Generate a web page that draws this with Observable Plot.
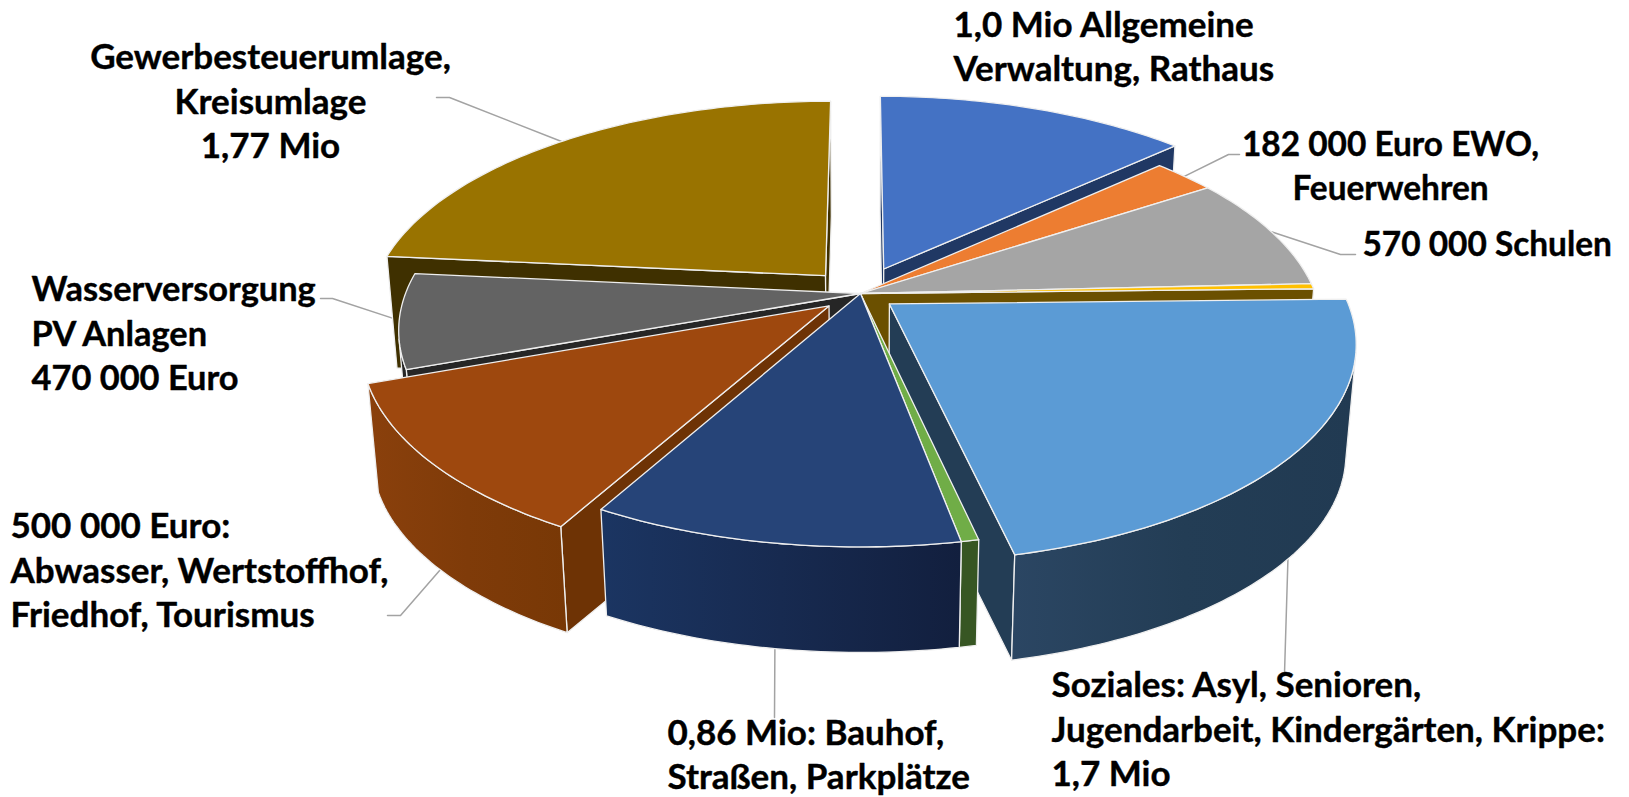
<!DOCTYPE html>
<html>
<head>
<meta charset="utf-8">
<style>html,body{margin:0;padding:0;background:#fff}svg{display:block}</style>
<script src="https://cdn.jsdelivr.net/npm/d3@7"></script>
<script src="https://cdn.jsdelivr.net/npm/@observablehq/plot@0.6"></script>
</head>
<body>
<script>
// Data: slice sizes (Mio Euro equivalents of the drawn angles)
const categories = ["Verwaltung","EWO","Schulen","Gelb","Soziales","Gruen","Bauhof","Abwasser","Wasser","Umlagen"];
const values = [1.0, 0.2, 0.65, 0.03, 1.67, 0.04, 0.84, 0.87, 0.54, 1.79];
const explode = [0.13, 0, 0, 0, 0.08, 0, 0, 0.09, 0, 0.116];
const topColors = ["#4472c4","#ed7d31","#a5a5a5","#ffc000","#5b9bd5","#70ad47","#264478","#9e480e","#636363","#997300"];
const wallColors = ["#203864","#7a3f17","#555555","#6b5000","#233d55","#375623","#14264d","#6e3305","#262626","#3f3000"];
const rimStops = [null,null,null,null,["#2b4663","#233d55","#213a52"],null,["#1b3562","#172a50","#121f3e"],["#8a400c","#7f3b09","#783806"],null,null];
const labelTexts = [
  "1,0 Mio Allgemeine\nVerwaltung, Rathaus",
  "182 000 Euro EWO,\nFeuerwehren",
  "570 000 Schulen",
  "",
  "Soziales: Asyl, Senioren,\nJugendarbeit, Kindergärten, Krippe:\n1,7 Mio",
  "",
  "0,86 Mio: Bauhof,\nStraßen, Parkplätze",
  "500 000 Euro:\nAbwasser, Wertstoffhof,\nFriedhof, Tourismus",
  "Wasserversorgung\nPV Anlagen\n470 000 Euro",
  "Gewerbesteuerumlage,\nKreisumlage\n1,77 Mio"
];

// Layout
const W = 1629, H = 797;
const cx = 860, cy = 293, A = 455, T = 210, k = 5.84;
const dropS = 0.021, vx = 865, vy = 5574;
const labelPos = [[953,44,"start"],[1390,163,"middle"],[1362,241,"start"],null,[1051,727,"start"],null,[667,752,"start"],[10,568,"start"],[31,331,"start"],[270,99,"middle"]];
const labelSize = [35,33.4,33.4,0,35,0,35,35,34.4,35];
const leaderRoute = [null,[[1228,154],[1239,154]],[[1340,254],[1355,254]],null,[[1284,673]],null,[[774,717]],[[400,615],[387,615]],[[332,298],[320,298]],[[449,97],[436,97]]];
const leaderOnBase = [false,false,false,false,true,false,true,true,false,false];
const paintOrder = [9,0,1,2,3,8,7,4,5,6];

const project = (X, Y) => { const f = k / (k + Y); return [cx + A * X * f, cy - T * Y * f]; };
const drop = ([x, y]) => [x + dropS * (vx - x), y + dropS * (vy - y)];
const arcs = d3.pie().sort(null).value(d => d)(values);

function sliceGeom(i) {
  const a = arcs[i], mid = (a.startAngle + a.endAngle) / 2;
  const ox = explode[i] * Math.sin(mid), oy = explode[i] * Math.cos(mid);
  const at = (b, r = 1) => project(ox + r * Math.sin(b), oy + r * Math.cos(b));
  const n = Math.max(2, Math.ceil((a.endAngle - a.startAngle) / (Math.PI / 180)));
  const rim = d3.range(n + 1).map(j => at(a.startAngle + (a.endAngle - a.startAngle) * j / n));
  return {a, mid, at, rim, apex: at(0, 0)};
}

const toRows = ps => ps.map(([x, y]) => ({x, y}));
const face = (ps, fill, extra = {}) => Plot.line(toRows(ps), {x: "x", y: "y", curve: "linear-closed", fill, stroke: "#efefef", strokeWidth: 1.3, strokeLinejoin: "round", ...extra});

const gradients = () => {
  const g = d3.create("svg:g");
  const defs = g.append("defs");
  rimStops.forEach((st, i) => {
    if (!st) return;
    const lg = defs.append("linearGradient").attr("id", `rim${i}`);
    st.forEach((c, j) => lg.append("stop").attr("offset", j / (st.length - 1)).attr("stop-color", c));
  });
  return g.node();
};

const signed = ps => { let t = 0; ps.forEach((p, j) => { const q = ps[(j + 1) % ps.length]; t += p[0] * q[1] - q[0] * p[1]; }); return t / 2; };
const pieMarks = [];
for (const i of paintOrder) {
  const s = sliceGeom(i);
  const apex = s.apex, first = s.rim[0], last = s.rim[s.rim.length - 1];
  // cut faces, only those turned to the viewer
  const startWall = [apex, first, drop(first), drop(apex)];
  const endWall = [apex, last, drop(last), drop(apex)];
  if (signed(startWall) < 0) pieMarks.push(face(startWall, wallColors[i]));
  if (signed(endWall) > 0) pieMarks.push(face(endWall, wallColors[i]));
  // outer rim: the run of segments turned to the viewer
  const vis = [];
  for (let j = 0; j + 1 < s.rim.length; j++) {
    const p = s.rim[j], q = s.rim[j + 1];
    if (signed([p, q, drop(q), drop(p)]) < 0) { if (!vis.length) vis.push(p); vis.push(q); }
  }
  if (vis.length > 1) {
    const strip = [...vis, ...vis.slice().reverse().map(drop)];
    pieMarks.push(face(strip, rimStops[i] ? `url(#rim${i})` : wallColors[i]));
  }
  pieMarks.push(face([apex, ...s.rim], topColors[i]));
}

const leaderMarks = leaderRoute.flatMap((route, i) => {
  if (!route) return [];
  const s = sliceGeom(i);
  const p = s.at(s.mid);
  const start = leaderOnBase[i] ? drop(p) : p;
  return [Plot.line(toRows([start, ...route]), {x: "x", y: "y", stroke: "#a3a3a3", strokeWidth: 1.5})];
});

const labelMarks = labelTexts.flatMap((t, i) => {
  if (!t) return [];
  const [x, y, anchor] = labelPos[i];
  return [Plot.text([t], {x: () => x, y: () => y, text: d => d, textAnchor: anchor, fontSize: labelSize[i], fontWeight: 700, lineHeight: 44.5 / labelSize[i], fill: "#000", stroke: "#000", strokeWidth: 0.4, fontFamily: "Lato"})];
});

const chart = Plot.plot({
  width: W, height: H, margin: 0,
  style: {background: "#fff", fontFamily: "Lato"},
  x: {domain: [0, W], range: [0, W], axis: null},
  y: {domain: [0, H], range: [0, H], axis: null},
  marks: [gradients, ...leaderMarks, ...pieMarks, ...labelMarks]
});
document.body.appendChild(chart);
</script>
</body>
</html>
